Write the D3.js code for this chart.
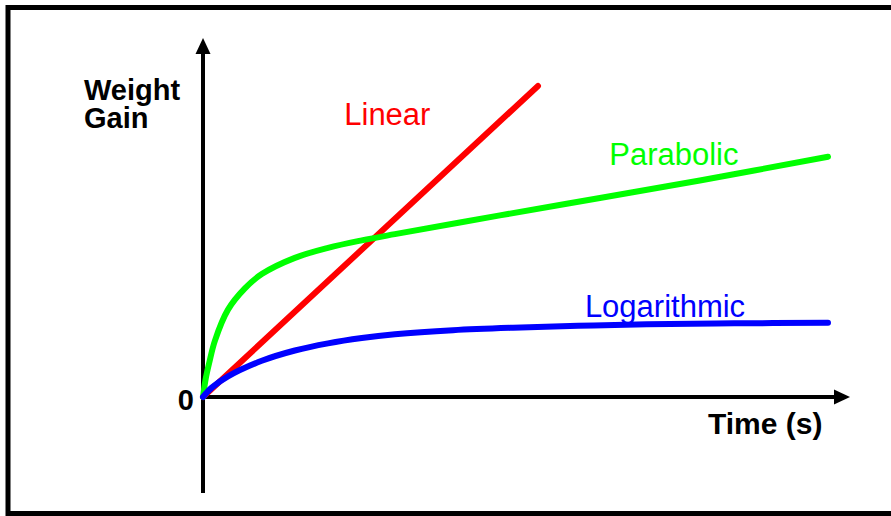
<!doctype html>
<html lang="en">
  <head>
    <meta charset="utf-8">
    <title>Weight gain vs time</title>
    <script src="https://d3js.org/d3.v7.min.js"></script>
    <style>
      body { margin: 0; background: #fff; }
      text { font-family: "Liberation Sans", Arial, sans-serif; }
    </style>
  </head>

  <body>
    <svg width="891" height="516"></svg>
    <script>
      // time values (arbitrary units, 0..100) and weight gain (0..100)
      var linearT = [0, 53.6];
      var linearW = [0, 99.7];

      var parabolicT = [0, 0.4, 1, 1.9, 4, 6.7, 9.4, 14.7, 20, 25.4, 30.7, 47.5, 63.5, 79.5, 100];
      var parabolicW = [0, 5.5, 11, 18, 28, 34.8, 39.4, 44.6, 47.8, 50.2, 52.2, 58.2, 63.8, 69.4, 77];

      var logT = [0, 1.4, 4, 9.4, 14.7, 20, 25.4, 30.7, 40, 49.6, 60, 71, 85, 100];
      var logW = [0, 3, 6.6, 11.6, 14.9, 17.2, 18.9, 20.1, 21.4, 22.2, 22.8, 23.3, 23.6, 23.8];

      var seriesNames = ['Linear', 'Parabolic', 'Logarithmic'];
      var seriesColors = ['#ff0000', '#00ff00', '#0000ff'];
      var yLabel = ['Weight', 'Gain'];
      var xLabel = 'Time (s)';
      var originLabel = '0';

      var svg = d3.select('svg');

      var x = d3.scaleLinear().domain([0, 100]).range([203, 828]);
      var y = d3.scaleLinear().domain([0, 100]).range([397, 85]);

      // frame
      svg.append('rect')
        .attr('x', 8).attr('y', 7.5)
        .attr('width', 900).attr('height', 506)
        .style('fill', 'none')
        .style('stroke', '#000')
        .style('stroke-width', 5);

      // axes with arrows
      svg.append('line')
        .attr('x1', x(0)).attr('y1', 493)
        .attr('x2', x(0)).attr('y2', 50)
        .style('stroke', '#000').style('stroke-width', 4);
      svg.append('path')
        .attr('d', 'M' + x(0) + ',38 l-7.5,16 l15,0 z')
        .style('fill', '#000');

      svg.append('line')
        .attr('x1', x(0)).attr('y1', y(0))
        .attr('x2', 838).attr('y2', y(0))
        .style('stroke', '#000').style('stroke-width', 4);
      svg.append('path')
        .attr('d', 'M850,' + y(0) + ' l-16,-7.5 l0,15 z')
        .style('fill', '#000');

      var series = [
        d3.zip(linearT, linearW),
        d3.zip(parabolicT, parabolicW),
        d3.zip(logT, logW)
      ];

      var line = d3.line()
        .x(function(d){ return x(d[0]); })
        .y(function(d){ return y(d[1]); })
        .curve(d3.curveCatmullRom.alpha(0.5));

      svg.selectAll('path.series')
        .data(series)
        .enter()
        .append('path')
          .attr('class', 'series')
          .attr('d', line)
          .style('fill', 'none')
          .style('stroke', function(d, i){ return seriesColors[i]; })
          .style('stroke-width', 6)
          .style('stroke-linecap', 'round')
          .style('stroke-linejoin', 'round');

      // series labels, placed in data units
      var labelAt = [[22.6, 87.2], [65, 74.4], [61.1, 25.6]];
      svg.selectAll('text.series')
        .data(seriesNames)
        .enter()
        .append('text')
          .attr('class', 'series')
          .attr('x', function(d, i){ return x(labelAt[i][0]); })
          .attr('y', function(d, i){ return y(labelAt[i][1]); })
          .style('font-size', '31px')
          .style('fill', function(d, i){ return seriesColors[i]; })
          .text(function(d){ return d; });

      // y axis title on two lines
      svg.append('text')
        .attr('y', 100)
        .style('font-size', '29px')
        .style('font-weight', 'bold')
        .selectAll('tspan')
        .data(yLabel)
        .enter()
        .append('tspan')
          .attr('x', 84)
          .attr('dy', function(d, i){ return i === 0 ? 0 : 28; })
          .text(function(d){ return d; });

      svg.append('text')
        .attr('x', 708).attr('y', 434)
        .style('font-size', '30px')
        .style('font-weight', 'bold')
        .text(xLabel);

      svg.append('text')
        .attr('x', 194).attr('y', 410)
        .attr('text-anchor', 'end')
        .style('font-size', '29px')
        .style('font-weight', 'bold')
        .text(originLabel);
    </script>
  </body>
</html>
